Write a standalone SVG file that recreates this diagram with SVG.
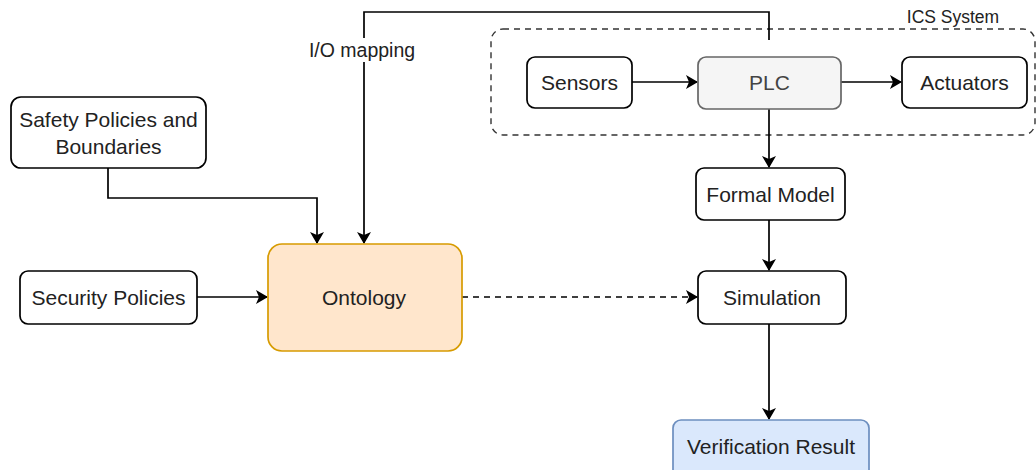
<svg xmlns="http://www.w3.org/2000/svg" width="1036" height="470" viewBox="0 0 1036 470">
  <defs>
    <marker id="arrow" viewBox="0 0 12 14" refX="11" refY="7" markerWidth="12" markerHeight="14" markerUnits="userSpaceOnUse" orient="auto">
      <path d="M0,0 L12,7 L0,14 L3,7 Z" fill="#000"/>
    </marker>
    <style>
      .box { fill: #ffffff; stroke: #000; stroke-width: 1.7; }
      .lbl { font-family: "Liberation Sans", Arial, sans-serif; font-size: 21px; fill: #222; text-anchor: middle; dominant-baseline: central; }
      .edge { fill: none; stroke: #000; stroke-width: 1.7; }
      .dash { stroke-dasharray: 6 5; }
    </style>
  </defs>
  <rect width="1036" height="470" fill="#ffffff"/>

  <!-- ICS system container -->
  <g id="ics-system">
    <rect x="491" y="29" width="544" height="106" rx="12" fill="none" stroke="#333" stroke-width="1.4" stroke-dasharray="6 5"/>
    <text x="953" y="17" class="lbl" style="font-size:17.5px">ICS System</text>
  </g>

  <!-- connectors -->
  <g id="connectors">
    <path class="edge" d="M108,168 V198 H317 V243" marker-end="url(#arrow)"/>
    <path class="edge" d="M769,40 V12 H364 V243" marker-end="url(#arrow)"/>
    <rect x="303" y="38" width="118" height="24" fill="#ffffff"/>
    <text x="362" y="50" class="lbl" style="font-size:19.5px">I/O mapping</text>
    <path class="edge" d="M632,82 H697" marker-end="url(#arrow)"/>
    <path class="edge" d="M841,82 H901" marker-end="url(#arrow)"/>
    <path class="edge" d="M769,109 V167" marker-end="url(#arrow)"/>
    <path class="edge" d="M769,220 V270" marker-end="url(#arrow)"/>
    <path class="edge" d="M197,297 H267" marker-end="url(#arrow)"/>
    <path class="edge dash" d="M462,297 H697" marker-end="url(#arrow)"/>
    <path class="edge" d="M769,324 V419" marker-end="url(#arrow)"/>
  </g>

  <g id="sensors">
    <rect class="box" x="527" y="57" width="105" height="51" rx="8"/>
    <text x="579.5" y="82" class="lbl">Sensors</text>
  </g>
  <g id="plc">
    <rect x="698" y="57" width="143" height="52" rx="8" fill="#f5f5f5" stroke="#666" stroke-width="1.7"/>
    <text x="769.5" y="82" class="lbl" style="fill:#444">PLC</text>
  </g>
  <g id="actuators">
    <rect class="box" x="902" y="57" width="125" height="51" rx="8"/>
    <text x="964.5" y="82" class="lbl">Actuators</text>
  </g>
  <g id="formal-model">
    <rect class="box" x="696" y="168" width="149" height="52" rx="8"/>
    <text x="770.5" y="194" class="lbl">Formal Model</text>
  </g>
  <g id="simulation">
    <rect class="box" x="698" y="271" width="148" height="53" rx="8"/>
    <text x="772" y="297" class="lbl">Simulation</text>
  </g>
  <g id="verification-result">
    <rect x="673" y="420" width="196" height="60" rx="8" fill="#dae8fc" stroke="#6c8ebf" stroke-width="1.7"/>
    <text x="771" y="446" class="lbl">Verification Result</text>
  </g>
  <g id="safety-policies">
    <rect class="box" x="11" y="97" width="195" height="71" rx="10"/>
    <text x="108.5" y="119" class="lbl">Safety Policies and</text>
    <text x="108.5" y="146" class="lbl">Boundaries</text>
  </g>
  <g id="security-policies">
    <rect class="box" x="20" y="271" width="177" height="53" rx="8"/>
    <text x="108.5" y="297" class="lbl">Security Policies</text>
  </g>
  <g id="ontology">
    <rect x="268" y="244" width="194" height="107" rx="14" fill="#ffe6cc" stroke="#d79b00" stroke-width="1.7"/>
    <text x="364" y="297" class="lbl">Ontology</text>
  </g>
</svg>
